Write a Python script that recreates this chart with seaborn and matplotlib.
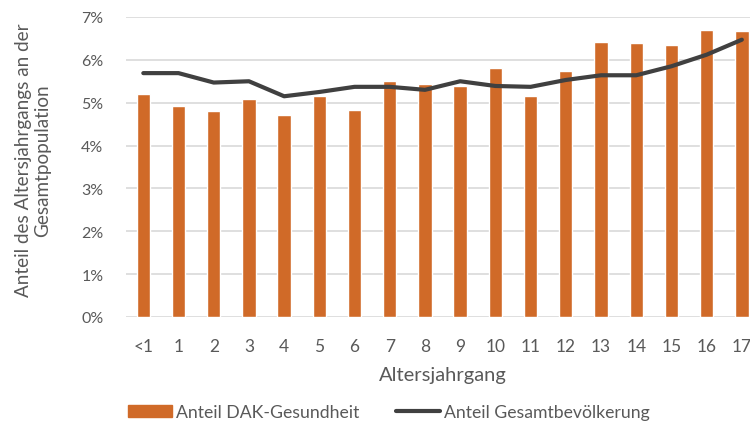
import numpy as np
import pandas as pd
import seaborn as sns
import matplotlib.pyplot as plt
from matplotlib.patches import Patch
from matplotlib.lines import Line2D
from matplotlib.ticker import PercentFormatter

# values in percent
age_labels = ['<1', '1', '2', '3', '4', '5', '6', '7', '8', '9',
              '10', '11', '12', '13', '14', '15', '16', '17']
dak_share = [5.21, 4.93, 4.81, 5.08, 4.71, 5.16, 4.84, 5.50, 5.43, 5.40,
             5.80, 5.16, 5.73, 6.42, 6.39, 6.34, 6.69, 6.67]
pop_share = [5.69, 5.69, 5.47, 5.50, 5.15, 5.25, 5.37, 5.37, 5.30, 5.50,
             5.39, 5.37, 5.53, 5.64, 5.64, 5.85, 6.12, 6.47]

bar_color = '#D06A28'
line_color = '#404040'
text_color = '#595959'

sns.set_theme(style='white')
plt.rcParams['font.family'] = ['Lato', 'DejaVu Sans']

df = pd.DataFrame({'age': age_labels, 'pos': np.arange(len(age_labels)),
                   'dak': dak_share, 'pop': pop_share})

fig = plt.figure(figsize=(7.5, 4.27), dpi=100)
ax = fig.add_axes([0.1676, 0.2553, 0.845, 0.7026])

sns.barplot(data=df, x='age', y='dak', color=bar_color, width=0.38,
            saturation=1, ax=ax, zorder=2)
sns.lineplot(data=df, x='pos', y='pop', color=line_color, linewidth=3.0,
             sort=False, ax=ax, zorder=3)

ax.set_xlim(-0.5, len(age_labels) - 0.5)
ax.set_ylim(0, 7)
ax.set_yticks(range(0, 8))
ax.yaxis.set_major_formatter(PercentFormatter(decimals=0))
ax.grid(axis='y', color='#D9D9D9', linewidth=1.2, zorder=0)
ax.set_axisbelow(True)
for s in ax.spines.values():
    s.set_visible(False)

ax.tick_params(axis='y', length=0, labelsize=11.5, labelcolor=text_color, pad=16)
ax.tick_params(axis='x', length=0, labelsize=12.5, labelcolor=text_color, pad=15)
ax.set_xlabel('Altersjahrgang', fontsize=14.5, color=text_color, labelpad=9)
ax.set_ylabel('Anteil des Altersjahrgangs an der\nGesamtpopulation',
              fontsize=13.6, color=text_color, linespacing=1.15)
ax.yaxis.set_label_coords(-0.117, 0.525)

# two separate legend entries, each anchored at its handle's left edge
leg_kw = dict(loc='center left', frameon=False, fontsize=12.7,
              labelcolor=text_color, handlelength=2.5, handletextpad=0.2,
              borderpad=0, borderaxespad=0)
leg1 = fig.legend([Patch(facecolor=bar_color, edgecolor=bar_color)],
                  ['Anteil DAK-Gesundheit'],
                  bbox_to_anchor=(0.171, 0.033), **leg_kw)
fig.legend([Line2D([0], [0], color=line_color, linewidth=3.0)],
           ['Anteil Gesamtbevölkerung'],
           bbox_to_anchor=(0.528, 0.033), **leg_kw)

fig.savefig('out.png', dpi=100)
